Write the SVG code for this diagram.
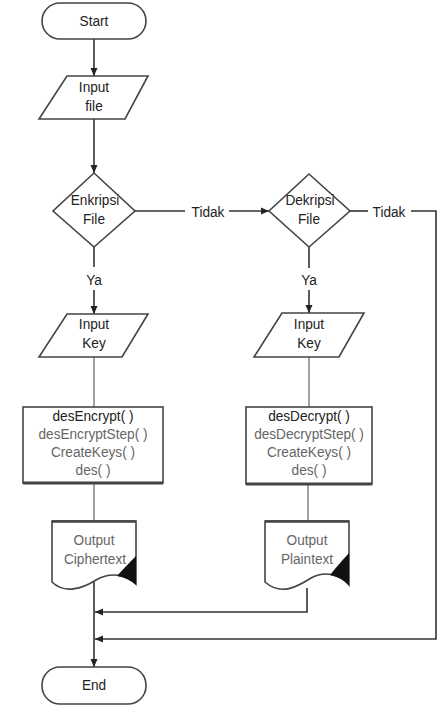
<svg xmlns="http://www.w3.org/2000/svg" width="448" height="714" viewBox="0 0 448 714">
<defs>
<style>
text{font-family:"Liberation Sans",Arial,sans-serif;font-size:15.5px;fill:#222;text-anchor:middle}
.shape{fill:#fff;stroke:#444;stroke-width:1.6}
.sub{fill:#666}
.conn{fill:none;stroke:#333;stroke-width:1.6}
.thin{fill:none;stroke:#555;stroke-width:1.1}
.shadow{stroke:#444;stroke-width:3.2}
</style>
<marker id="arr" markerUnits="userSpaceOnUse" markerWidth="9" markerHeight="8" refX="8" refY="4" orient="auto">
<path d="M0,0.5 L8,4 L0,7.5 Z" fill="#222"/>
</marker>
</defs>
<rect width="448" height="714" fill="#fff"/>
<g id="connectors">
<path class="conn" d="M94,39 V76" marker-end="url(#arr)"/>
<path class="conn" d="M94,119 V173" marker-end="url(#arr)"/>
<path class="conn" d="M135,211 H185"/>
<path class="conn" d="M229,211 H269" marker-end="url(#arr)"/>
<path class="conn" d="M94,247 V267"/>
<path class="conn" d="M94,290 V314" marker-end="url(#arr)"/>
<path class="conn" d="M309,247 V268"/>
<path class="conn" d="M309,290 V313" marker-end="url(#arr)"/>
<path class="conn" d="M350,211 H368"/>
<path class="conn" d="M411,211 H436 V639 H95" marker-end="url(#arr)"/>
<path class="thin" d="M94,357 V407"/>
<path class="thin" d="M309,357 V407"/>
<path class="thin" d="M94,483 V521"/>
<path class="thin" d="M308,484 V521"/>
<path class="conn" d="M94,582 V667" marker-end="url(#arr)"/>
<path class="conn" d="M307,588 V612 H95" marker-end="url(#arr)"/>
<text transform="translate(208,217) scale(.88,1)">Tidak</text>
<text transform="translate(389,217) scale(.88,1)">Tidak</text>
<text transform="translate(94,285) scale(.88,1)">Ya</text>
<text transform="translate(309,285) scale(.88,1)">Ya</text>
</g>
<g id="start">
<rect class="shape" x="42" y="3" width="104" height="36" rx="18"/>
<text transform="translate(94,26) scale(.88,1)">Start</text>
</g>
<g id="input-file">
<polygon class="shape" points="67,76 148,76 125,119 39,119"/>
<text transform="translate(94,92) scale(.88,1)">Input</text>
<text transform="translate(94,111) scale(.88,1)">file</text>
</g>
<g id="enkripsi">
<polygon class="shape" points="94,173 135,211 94,247 53,211"/>
<text transform="translate(95,205) scale(.88,1)">Enkripsi</text>
<text transform="translate(94,224) scale(.88,1)">File</text>
</g>
<g id="dekripsi">
<polygon class="shape" points="309,174 350,211 309,247 269,211"/>
<text transform="translate(310,205) scale(.88,1)">Dekripsi</text>
<text transform="translate(309,224) scale(.88,1)">File</text>
</g>
<g id="input-key-1">
<polygon class="shape" points="67,314 148,314 122,357 39,357"/>
<text transform="translate(94,329) scale(.88,1)">Input</text>
<text transform="translate(94,348) scale(.88,1)">Key</text>
</g>
<g id="input-key-2">
<polygon class="shape" points="282,313 364,313 339,357 254,357"/>
<text transform="translate(309,329) scale(.88,1)">Input</text>
<text transform="translate(309,348) scale(.88,1)">Key</text>
</g>
<g id="encrypt">
<rect class="shape" x="23" y="407" width="140" height="76"/>
<line class="shadow" x1="23" y1="483" x2="163" y2="483"/>
<text transform="translate(93,421) scale(.88,1)">desEncrypt( )</text>
<text class="sub" transform="translate(93,439) scale(.88,1)">desEncryptStep( )</text>
<text class="sub" transform="translate(93,457) scale(.88,1)">CreateKeys( )</text>
<text class="sub" transform="translate(93,475) scale(.88,1)">des( )</text>
</g>
<g id="decrypt">
<rect class="shape" x="246" y="407" width="126" height="77"/>
<line class="shadow" x1="246" y1="484" x2="372" y2="484"/>
<text transform="translate(309,421) scale(.88,1)">desDecrypt( )</text>
<text class="sub" transform="translate(309,439) scale(.88,1)">desDecryptStep( )</text>
<text class="sub" transform="translate(309,457) scale(.88,1)">CreateKeys( )</text>
<text class="sub" transform="translate(309,475) scale(.88,1)">des( )</text>
</g>
<g id="output-ciphertext">
<path class="shape" d="M52,521 H136 V584 C126,574 110,572 96,580 C82,589 64,594 52,582 Z"/>
<line class="shadow" x1="52" y1="521.5" x2="136" y2="521.5" style="stroke-width:2.4"/>
<path d="M136,556 Q125,567 117,576 Q128,578 136,585 Z" fill="#111"/>
<text class="sub" transform="translate(94,545) scale(.88,1)">Output</text>
<text class="sub" transform="translate(95,564) scale(.88,1)">Ciphertext</text>
</g>
<g id="output-plaintext">
<path class="shape" d="M265,521 H349 V585 C340,575 326,570 311,578 C297,587 281,596 265,582 Z"/>
<line class="shadow" x1="265" y1="521.5" x2="349" y2="521.5" style="stroke-width:2.4"/>
<path d="M349,553 Q338,565 330,575 Q341,577 349,585 Z" fill="#111"/>
<text class="sub" transform="translate(307,545) scale(.88,1)">Output</text>
<text class="sub" transform="translate(307,564) scale(.88,1)">Plaintext</text>
</g>
<g id="end">
<rect class="shape" x="42" y="667" width="104" height="37" rx="18"/>
<text transform="translate(94,690) scale(.88,1)">End</text>
</g>
</svg>
